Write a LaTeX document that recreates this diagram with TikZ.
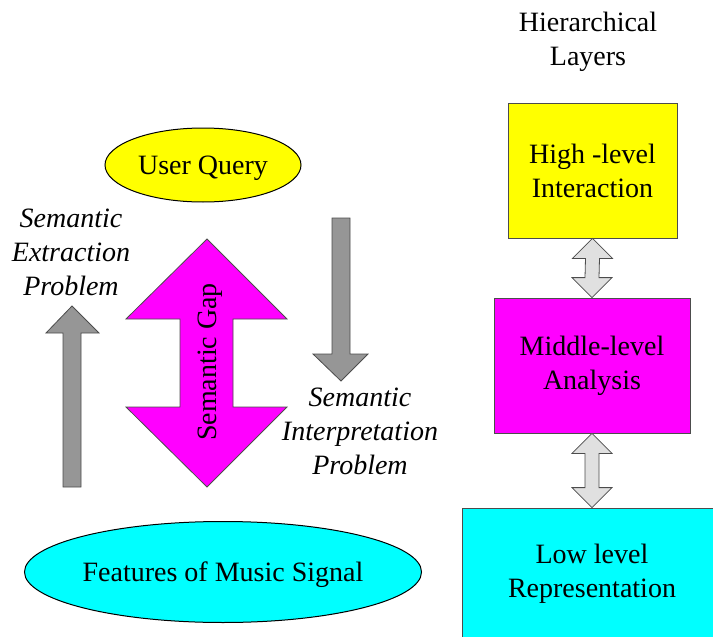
\documentclass[tikz,border=0pt]{standalone}
\usepackage{fontspec}
\setmainfont{Liberation Serif}
\usetikzlibrary{shapes.geometric,calc}

\definecolor{qyellow}{HTML}{FFFF00}
\definecolor{qmagenta}{HTML}{FF00FF}
\definecolor{qcyan}{HTML}{00FFFF}
\definecolor{qgray}{HTML}{969696}
\definecolor{qlight}{HTML}{E0E0E0}

\tikzset{
  txt/.style={font=\fontsize{28}{34}\selectfont, align=center, inner sep=0pt},
  itxt/.style={txt, font=\fontsize{28}{34}\selectfont\itshape},
  oval/.style={ellipse, draw=black, line width=1pt, inner sep=0pt, txt, text depth=0pt},
  layer/.style={rectangle, draw=black!70, line width=0.8pt, inner sep=0pt, txt},
  grayarrow/.style={fill=qgray, draw=black!70, line width=0.8pt},
  gaparrow/.style={fill=qmagenta, draw=black!70, line width=0.8pt},
  linkarrow/.style={fill=qlight, draw=black!70, line width=0.8pt}
}

% double-headed block arrow joining the bottom of one layer to the top of the next
\newcommand{\layerlink}[2]{%
  \draw[linkarrow] (#1.south)
    -- ([shift={(20,20)}]#1.south) -- ([shift={(7,20)}]#1.south)
    -- ([shift={(7,-20)}]#2.north) -- ([shift={(20,-20)}]#2.north)
    -- (#2.north)
    -- ([shift={(-20,-20)}]#2.north) -- ([shift={(-7,-20)}]#2.north)
    -- ([shift={(-7,20)}]#1.south) -- ([shift={(-20,20)}]#1.south)
    -- cycle;}

\begin{document}
\begin{tikzpicture}[x=1pt,y=-1pt]
  \useasboundingbox (0,0) rectangle (713,637);

  % left part: query and signal features
  \node[oval, fill=qyellow, minimum width=196pt, minimum height=74pt] (query) at (203,165) {User Query};
  \node[oval, fill=qcyan, minimum width=370pt, minimum height=101pt] (features) at (223,572) {Features of Music Signal};

  % extraction arrow (upwards)
  \draw[grayarrow] (72,306) -- (99,333) -- (81,333) -- (81,487) -- (63,487) -- (63,333) -- (46,333) -- cycle;
  \node[itxt] (extract) at (71,252) {Semantic\\Extraction\\Problem};

  % interpretation arrow (downwards)
  \draw[grayarrow] (332,218) -- (350,218) -- (350,354) -- (368,354) -- (341,381) -- (313,354) -- (332,354) -- cycle;
  \node[itxt] (interpret) at (360,431) {Semantic\\Interpretation\\Problem};

  % semantic gap double arrow
  \draw[gaparrow] (207,239) -- (287,319) -- (233,319) -- (233,407) -- (287,407) -- (207,487)
    -- (126,407) -- (180,407) -- (180,319) -- (126,319) -- cycle;
  \node[txt, text depth=0pt, rotate=90] (gap) at (207,362) {Semantic Gap};

  % right part: hierarchical layers
  \node[txt] (title) at (588,42) {Hierarchical\\Layers};
  \node[layer, fill=qyellow, minimum width=169pt, minimum height=135pt] (high) at (592.5,170.5) {High -level\\Interaction};
  \node[layer, fill=qmagenta, minimum width=196pt, minimum height=135pt] (mid) at (592,365.5) {Middle-level\\Analysis};
  \node[layer, fill=qcyan, minimum width=260pt, minimum height=132pt] (low) at (592,574) {Low level\\Representation};

  \layerlink{high}{mid}
  \layerlink{mid}{low}
\end{tikzpicture}
\end{document}
